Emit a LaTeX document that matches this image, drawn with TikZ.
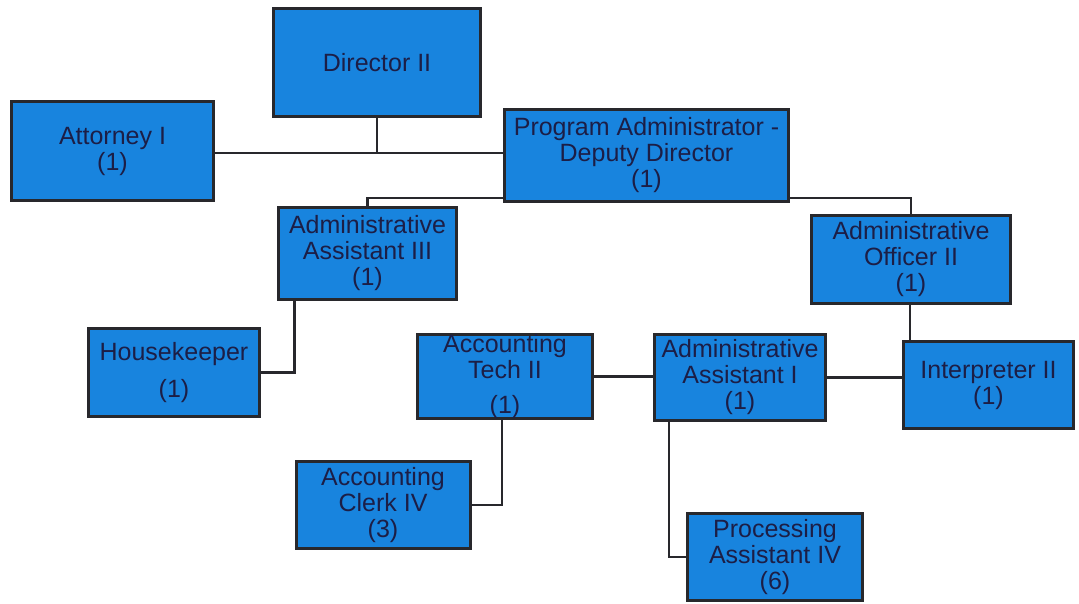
\documentclass[tikz,border=0pt]{standalone}
\usepackage{fontspec}
\setmainfont{Liberation Sans}
\usetikzlibrary{backgrounds}
\definecolor{boxblue}{RGB}{24,132,222}
\definecolor{boxedge}{RGB}{40,40,44}
\definecolor{labelink}{RGB}{28,30,70}
\tikzset{
  post/.style={draw=boxedge, line width=3pt, fill=boxblue, text=labelink,
    align=center, inner sep=0pt, font=\fontsize{25}{26}\selectfont},
  link/.style={draw=boxedge, line width=2.4pt}
}
\begin{document}
\begin{tikzpicture}[x=1pt, y=-1pt]
\useasboundingbox (0,0) rectangle (1079,603);
% positions
\node[post, minimum width=207pt, minimum height=108pt] (dir) at (377,62.5) {Director II};
\node[post, minimum width=202pt, minimum height=99pt] (att) at (112.5,151) {Attorney I\\(1)};
\node[post, minimum width=284pt, minimum height=92pt] (pa) at (646.5,155) {Program Administrator -\\Deputy Director\\(1)};
\node[post, minimum width=178pt, minimum height=92pt] (aa3) at (367.5,253.5) {Administrative\\Assistant III\\(1)};
\node[post, minimum width=199pt, minimum height=88pt] (ao2) at (911,259.5) {Administrative\\Officer II\\(1)};
\node[post, minimum width=171pt, minimum height=88pt] (hk) at (174,372.5) {Housekeeper\\[11pt](1)};
\node[post, minimum width=175pt, minimum height=84pt] (at) at (505,376.5) {Accounting\\Tech II\\[9pt](1)};
\node[post, minimum width=171pt, minimum height=86pt] (aa1) at (740,377.5) {Administrative\\Assistant I\\(1)};
\node[post, minimum width=170pt, minimum height=87pt] (ip) at (988.5,385) {Interpreter II\\(1)};
\node[post, minimum width=174pt, minimum height=87pt] (clk) at (383,505) {Accounting\\Clerk IV\\(3)};
\node[post, minimum width=175pt, minimum height=87pt] (proc) at (775,557) {Processing\\Assistant IV\\(6)};
% reporting lines
\begin{scope}[on background layer]
  \coordinate (j1) at (dir.south |- 0,153);
  \draw[link] (dir.south) -- (j1);
  \draw[link] (att.east |- j1) -- (pa.west |- j1);
  \draw[link] (aa3.north) -- ++(0,-8) -| (ao2.north);
  \draw[link] (hk.east) -| ([xshift=-73pt]aa3.south);
  \draw[link] (at.east) -- (at.east -| aa1.west);
  \draw[link] (aa1.east) -- (aa1.east -| ip.west);
  \draw[link] ([xshift=-1pt]ao2.south) -- ([xshift=-1pt]ao2.south |- ip.north);
  \draw[link] ([xshift=-3pt]at.south) |- (clk.east);
  \draw[link] ([xshift=-71pt]aa1.south) |- (proc.west);
\end{scope}
\end{tikzpicture}
\end{document}
